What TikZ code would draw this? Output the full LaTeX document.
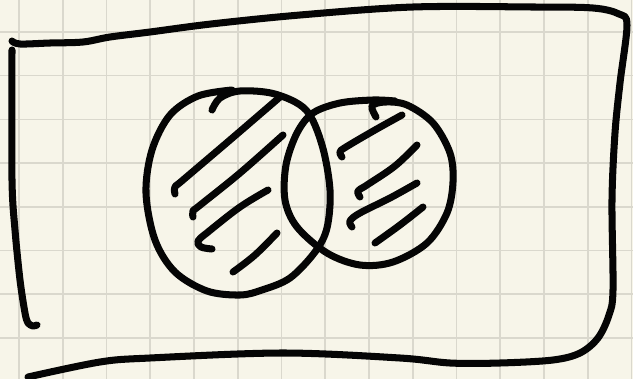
\documentclass[tikz,border=0pt]{standalone}
\usepackage{xcolor}
\usepackage{tikz}
\definecolor{Paper}{HTML}{F7F5E9}
\definecolor{GridGray}{HTML}{DAD8CD}
\definecolor{Ink}{HTML}{050505}

\begin{document}
\begin{tikzpicture}[
    x=0.02cm,y=-0.02cm,
    gridline/.style={draw=GridGray,line width=0.9pt},
    pen/.style={draw=Ink,line width=4pt,line cap=round,line join=round},
    hatch/.style={pen,smooth,tension=0.6}
]
% paper and squares
\fill[Paper] (0,0) rectangle (633,379);
\useasboundingbox (0,0) rectangle (633,379);
\foreach \gx in {0,...,14}
    \draw[gridline] ({19+43.75*\gx},0) -- ++(0,379);
\foreach \gy in {0,...,7}
    \draw[gridline] (0,{32+43.7*\gy}) -- ++(633,0);

% frame: left stroke, then top, right and bottom in one go
\draw[pen] plot[smooth,tension=0.5] coordinates {(12,50) (12,180) (15,230) (20,280) (25,313) (28,323) (33,326) (37,325)};
\draw[pen] plot[smooth,tension=0.55] coordinates {(12,41) (20,44) (50,43) (83,42) (110,37) (150,32) (211,24)
    (300,15) (413,7) (533,7) (593,8) (619,14) (627,25) (620,83) (615,133) (612,200) (613,290)
    (609,315) (598,338) (580,353) (553,360) (500,363) (450,363) (400,358) (283,353) (150,358)
    (100,362) (28,377)};

% left set
\draw[pen] plot[smooth,tension=0.55] coordinates {(212,110) (220,98) (240,91) (275,94) (306,110) (322,145)
    (330,190) (327,228) (315,252) (290,278) (262,290) (240,295) (207,291) (175,272) (155,240)
    (146,193) (152,150) (170,115) (198,96) (232,90)};
% right set
\draw[pen] plot[smooth,tension=0.55] coordinates {(376,117) (372,106) (385,102) (407,105) (433,123)
    (450,153) (453,182) (447,213) (427,243) (393,262) (360,265) (327,253) (297,227) (285,200)
    (286,165) (297,133) (313,113) (340,103) (373,100) (395,101)};

% shading strokes
\draw[pen] plot[hatch] coordinates {(175,194) (175,187) (183,180) (230,140) (280,97)};
\draw[pen] plot[hatch] coordinates {(193,217) (193,211) (199,206) (240,173) (283,135)};
\draw[pen] plot[hatch] coordinates {(212,249) (201,247) (198,241) (208,232) (240,207) (268,190)};
\draw[pen] plot[hatch] coordinates {(233,272) (255,255) (277,233)};
\draw[pen] plot[hatch] coordinates {(342,157) (340,152) (346,147) (375,130) (402,115)};
\draw[pen] plot[hatch] coordinates {(360,197) (358,191) (367,185) (395,166) (417,145)};
\draw[pen] plot[hatch] coordinates {(352,227) (350,221) (360,213) (390,198) (417,183)};
\draw[pen] plot[hatch] coordinates {(375,243) (400,225) (423,207)};
\end{tikzpicture}
\end{document}
